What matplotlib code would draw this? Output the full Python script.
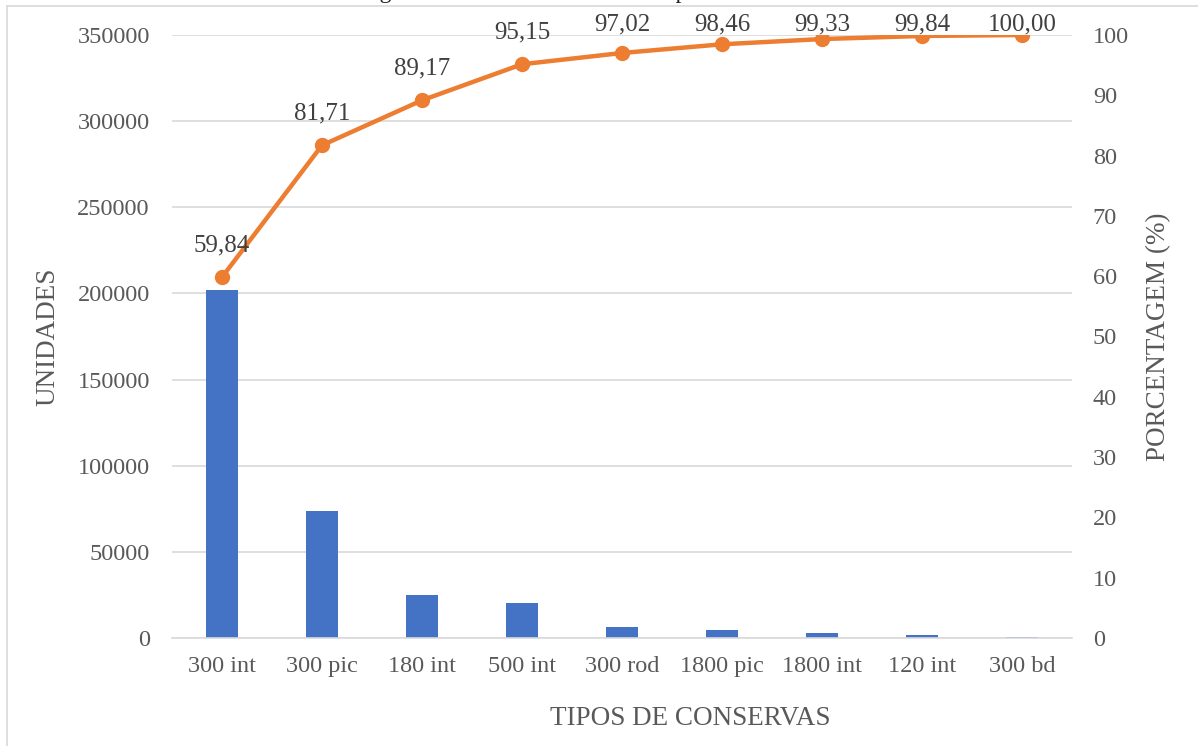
"""
Pareto chart of the canned goods produced
"""
import matplotlib.pyplot as plt
import numpy as np

plt.rcParams['font.family'] = ['Liberation Serif', 'DejaVu Serif']

categorias = ["300 int", "300 pic", "180 int", "500 int", "300 rod",
              "1800 pic", "1800 int", "120 int", "300 bd"]
unidades = [202000, 73800, 25180, 20180, 6310, 4860, 2940, 1720, 540]
acumulado = [59.84, 81.71, 89.17, 95.15, 97.02, 98.46, 99.33, 99.84, 100.00]
rotulos = ["59,84", "81,71", "89,17", "95,15", "97,02", "98,46", "99,33", "99,84", "100,00"]

cinza = "#595959"
fig = plt.figure(figsize=(11.98, 7.46), dpi=100)

# moldura do grafico (so a borda esquerda e de cima aparecem)
fig.add_artist(plt.Line2D([7/1198, 7/1198], [0, 1 - 6/746], color="#D9D9D9", lw=1.2))
fig.add_artist(plt.Line2D([7/1198, 1], [1 - 6/746, 1 - 6/746], color="#D9D9D9", lw=1.2))
fig.text(0.5, 1 - 3/746, "Gráfico 3 – Diagrama de Pareto das conservas produzidas na fábrica em 2019",
         ha="center", va="bottom", fontsize=17, color="#222222")

ax = fig.add_axes([172/1198, 1 - 638/746, 900/1198, 603/746])
x = np.arange(len(categorias))
ax.bar(x, unidades, width=0.32, color="#4472C4", zorder=2)
ax.set_xlim(-0.5, len(categorias) - 0.5)
ax.set_ylim(0, 350000)
ax.set_yticks(np.arange(0, 350001, 50000))
ax.set_xticks(x)
ax.set_xticklabels(categorias)
ax.yaxis.grid(True, color="#D9D9D9", lw=1.2, zorder=0)
for s in ["top", "right", "left"]:
    ax.spines[s].set_visible(False)
ax.spines["bottom"].set_color("#D9D9D9")
ax.spines["bottom"].set_linewidth(1.2)
ax.tick_params(length=0, labelsize=17.5, labelcolor=cinza)
ax.tick_params(axis="y", pad=16)
ax.tick_params(axis="x", pad=13)
ax.set_ylabel("UNIDADES", fontsize=19.5, color=cinza, labelpad=12)
ax.set_xlabel("TIPOS DE CONSERVAS", fontsize=19.5, color=cinza)
ax.xaxis.set_label_coords(0.5756, -0.112)

ax2 = ax.twinx()
ax2.plot(x, acumulado, color="#ED7D31", lw=3.2, marker="o", markersize=10, zorder=3)
ax2.set_ylim(0, 100)
ax2.set_yticks(np.arange(0, 101, 10))
for s in ["top", "right", "left", "bottom"]:
    ax2.spines[s].set_visible(False)
ax2.tick_params(length=0, labelsize=17.5, labelcolor=cinza, pad=15)
ax2.set_ylabel("PORCENTAGEM (%)", fontsize=19.5, color=cinza, labelpad=12)

# rotulos acima dos pontos, sem passar do topo da area do grafico
for xi, yi, t in zip(x, acumulado, rotulos):
    ax2.text(xi, min(yi + 5.3, 101.7), t, ha="center", va="center",
             fontsize=18, color="#404040", clip_on=False)

fig.savefig("out.png", dpi=100)
